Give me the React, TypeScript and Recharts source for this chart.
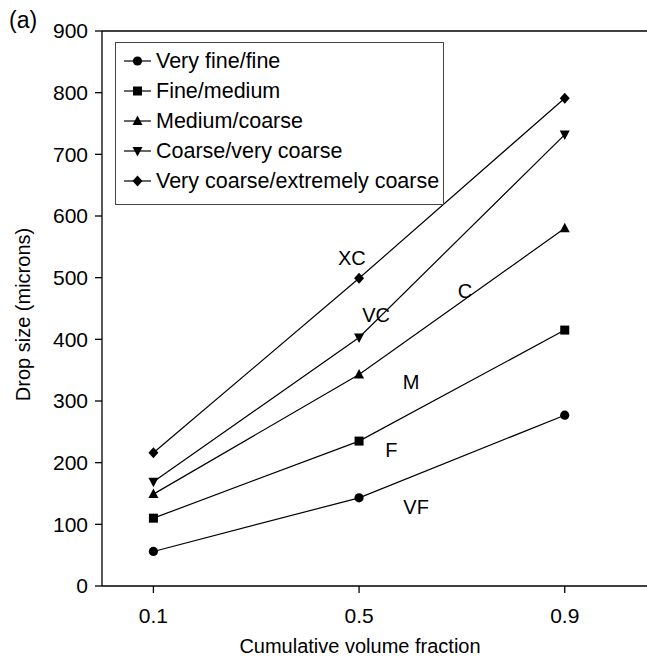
import React from 'react';
import { LineChart, Line, XAxis, YAxis, ReferenceLine, ReferenceDot } from 'recharts';

// Cumulative volume fraction (Dv0.1, Dv0.5, Dv0.9)
const fractions = [0.1, 0.5, 0.9];

// Drop size boundaries between spray classes, in microns
const veryFineFine = [56, 143, 277];
const fineMedium = [110, 235, 415];
const mediumCoarse = [149, 343, 580];
const coarseVeryCoarse = [169, 403, 732];
const veryCoarseExtremelyCoarse = [216, 499, 791];

const seriesNames = [
  'Very fine/fine',
  'Fine/medium',
  'Medium/coarse',
  'Coarse/very coarse',
  'Very coarse/extremely coarse',
];
const seriesShapes = ['circle', 'square', 'triangle', 'down', 'diamond'];
const seriesValues = [veryFineFine, fineMedium, mediumCoarse, coarseVeryCoarse, veryCoarseExtremelyCoarse];

const yTicks = [0, 100, 200, 300, 400, 500, 600, 700, 800, 900];
const xTicks = [0.1, 0.5, 0.9];

// Spray class names written between the boundary lines
const classLabels = ['XC', 'VC', 'C', 'M', 'F', 'VF'];
const classLabelX = [0.486, 0.533, 0.706, 0.601, 0.563, 0.611];
const classLabelY = [532, 439, 479, 331, 220, 128];

const FONT = '"Liberation Sans", Arial, Helvetica, sans-serif';

const rows = fractions.map((f, i) => {
  const row: Record<string, number> = { fraction: f };
  seriesValues.forEach((vals, s) => {
    row[`s${s}`] = vals[i];
  });
  return row;
});

function Marker({ shape, cx, cy }: { shape: string; cx: number; cy: number }) {
  switch (shape) {
    case 'circle':
      return <circle cx={cx} cy={cy} r={4.6} fill="#000" />;
    case 'square':
      return <rect x={cx - 4.5} y={cy - 4.5} width={9} height={9} fill="#000" />;
    case 'triangle':
      return <polygon points={`${cx},${cy - 5.5} ${cx + 5},${cy + 4} ${cx - 5},${cy + 4}`} fill="#000" />;
    case 'down':
      return <polygon points={`${cx - 5},${cy - 4} ${cx + 5},${cy - 4} ${cx},${cy + 5.5}`} fill="#000" />;
    default:
      return <polygon points={`${cx},${cy - 5.5} ${cx + 5},${cy} ${cx},${cy + 5.5} ${cx - 5},${cy}`} fill="#000" />;
  }
}

function YTitle(props: any) {
  const vb = props.viewBox || { x: 0, y: 0, height: 0 };
  const cx = 23;
  const cy = vb.y + vb.height / 2 + 6;
  return (
    <text x={cx} y={cy} transform={`rotate(-90, ${cx}, ${cy})`} textAnchor="middle" dominantBaseline="central"
      fill="#000" fontSize={20} fontFamily={FONT}>
      Drop size (microns)
    </text>
  );
}

function XTitle(props: any) {
  const vb = props.viewBox || { x: 0, y: 0, height: 0 };
  return (
    <text x={360} y={vb.y + 60} textAnchor="middle" dominantBaseline="central" fill="#000" fontSize={20} fontFamily={FONT}>
      Cumulative volume fraction
    </text>
  );
}

export default function App() {
  return (
    <div style={{ position: 'absolute', left: 0, top: 0, width: 647, height: 660, background: '#fff', fontFamily: FONT }}>
      <LineChart width={647} height={660} data={rows} margin={{ top: 31, right: 0, left: 0, bottom: 0 }}>
        <XAxis
          dataKey="fraction"
          type="number"
          domain={[0, 1.06]}
          ticks={xTicks}
          allowDataOverflow
          height={74}
          tickSize={7}
          tickMargin={15}
          stroke="#000"
          strokeWidth={1.3}
          tick={{ fill: '#000', fontSize: 21, fontFamily: FONT }}
          label={<XTitle />}
        />
        <YAxis
          type="number"
          domain={[0, 900]}
          ticks={yTicks}
          width={102}
          tickSize={7}
          tickMargin={7}
          stroke="#000"
          strokeWidth={1.3}
          tick={{ fill: '#000', fontSize: 21, fontFamily: FONT }}
          label={<YTitle />}
        />
        <ReferenceLine y={900} stroke="#000" strokeWidth={1.3} />
        {seriesNames.map((name, s) => (
          <Line
            key={name}
            name={name}
            dataKey={`s${s}`}
            stroke="#000"
            strokeWidth={1.2}
            isAnimationActive={false}
            activeDot={false}
            dot={(p: any) => <Marker key={`${s}-${p.index}`} shape={seriesShapes[s]} cx={p.cx} cy={p.cy} />}
          />
        ))}
        {classLabels.map((lab, i) => (
          <ReferenceDot
            key={lab}
            x={classLabelX[i]}
            y={classLabelY[i]}
            r={0}
            fill="none"
            stroke="none"
            label={{ value: lab, position: 'center', fill: '#000', fontSize: 20, fontFamily: FONT }}
          />
        ))}
      </LineChart>

      <span style={{ position: 'absolute', left: 9, top: 6, fontSize: 23, lineHeight: '28px', color: '#000' }}>(a)</span>

      {/* legend box */}
      <div
        style={{
          position: 'absolute',
          left: 115,
          top: 42,
          width: 327,
          height: 158,
          border: '1.5px solid #444',
          boxSizing: 'content-box',
          paddingTop: 3,
        }}
      >
        {seriesNames.map((name, s) => (
          <div key={name} style={{ display: 'flex', alignItems: 'center', height: 30, paddingLeft: 8 }}>
            <svg width={27} height={14} style={{ marginRight: 5 }}>
              <line x1={0} y1={7} x2={27} y2={7} stroke="#000" strokeWidth={1.2} />
              <Marker shape={seriesShapes[s]} cx={13.5} cy={7} />
            </svg>
            <span style={{ fontSize: 21.5, color: '#000', whiteSpace: 'nowrap' }}>{name}</span>
          </div>
        ))}
      </div>
    </div>
  );
}
